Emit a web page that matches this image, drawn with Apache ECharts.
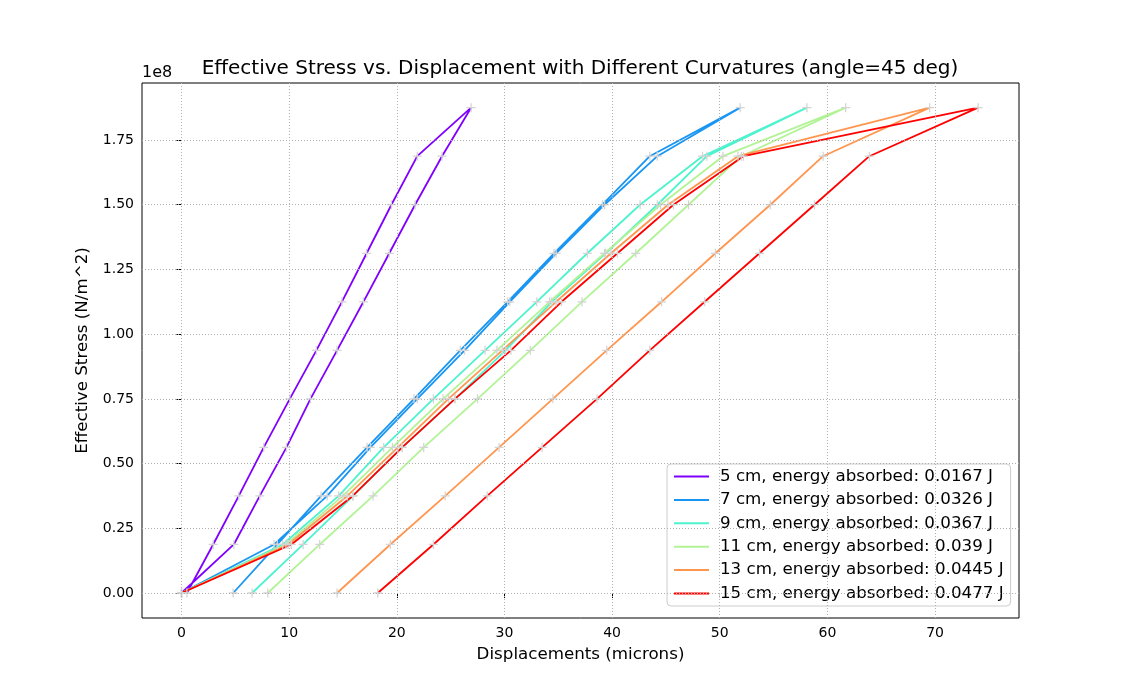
<!DOCTYPE html>
<html>
<head>
<meta charset="utf-8">
<script src="https://cdn.jsdelivr.net/npm/echarts@6/dist/echarts.min.js"></script>
<style>
  html, body { margin: 0; padding: 0; background: #fff; }
  #grafico { width: 1132px; height: 694px; }
</style>
</head>
<body>
<div id="grafico"></div>
<script>
// stress levels (N/m^2): loading up to the peak, then unloading
var stress = [0, 18750000, 37500000, 56250000, 75000000, 93750000, 112500000, 131250000, 150000000, 168750000, 187500000,
  168750000, 150000000, 131250000, 112500000, 93750000, 75000000, 56250000, 37500000, 18750000, 0];

// displacements (microns), one per stress level
var disp5 = [0, 4.86, 7.27, 9.75, 11.98, 14.45, 16.9, 19.3, 21.7, 24.2, 26.9, 21.9, 19.5, 17.2, 14.9, 12.53, 10.06, 7.64, 5.32, 2.94, 0.5];
var disp7 = [0, 8.6, 13.53, 17.55, 21.9, 26.3, 30.5, 34.8, 39.3, 44.2, 51.9, 43.5, 39.1, 34.6, 30.3, 25.9, 21.6, 17.24, 12.97, 8.9, 4.8];
var disp9 = [0, 9.4, 14.6, 18.78, 23.4, 28.2, 33.0, 37.7, 42.6, 48.4, 58.1, 48.8, 44.2, 39.4, 34.4, 30.1, 25.4, 20.49, 15.94, 11.3, 6.56];
var disp11 = [0, 9.7, 15.0, 19.6, 24.3, 29.3, 34.2, 39.3, 44.5, 50.3, 61.7, 52.0, 47.1, 42.2, 37.2, 32.4, 27.5, 22.5, 17.8, 12.84, 8.01];
var disp13 = [0, 9.9, 15.4, 20.1, 24.8, 29.8, 34.8, 39.9, 45.2, 51.7, 69.5, 59.6, 54.7, 49.6, 44.6, 39.5, 34.5, 29.5, 24.5, 19.4, 14.45];
var disp15 = [0, 10.2, 15.9, 20.5, 25.4, 30.6, 35.3, 40.5, 45.7, 52.2, 74.0, 63.9, 58.8, 53.7, 48.6, 43.5, 38.6, 33.5, 28.4, 23.4, 18.23];

var names = [
  '5 cm, energy absorbed: 0.0167 J',
  '7 cm, energy absorbed: 0.0326 J',
  '9 cm, energy absorbed: 0.0367 J',
  '11 cm, energy absorbed: 0.039 J',
  '13 cm, energy absorbed: 0.0445 J',
  '15 cm, energy absorbed: 0.0477 J'
];
var colors = ['#8000ff', '#1996f3', '#4df3ce', '#b2f396', '#ff964f', '#ff0000'];

var xTicks = [0, 10, 20, 30, 40, 50, 60, 70];
var yTicks = [0, 25000000, 50000000, 75000000, 100000000, 125000000, 150000000, 175000000];

var font = 'DejaVu Sans';
var plus = 'path://M4.3,0 H5.7 V4.3 H10 V5.7 H5.7 V10 H4.3 V5.7 H0 V4.3 H4.3 Z';

var chartDom = document.getElementById('grafico');
var myChart = echarts.init(chartDom, null, { renderer: 'canvas' });

var allDisp = [disp5, disp7, disp9, disp11, disp13, disp15];

var series = allDisp.map(function (d, i) {
  return {
    name: names[i],
    type: 'line',
    data: d.map(function (x, k) { return [x, stress[k]]; }),
    symbol: plus,
    symbolSize: 9,
    showAllSymbol: true,
    clip: false,
    itemStyle: { color: '#d4d4d4' },
    lineStyle: { color: colors[i], width: 1.8 },
    emphasis: { disabled: true },
    z: 3
  };
});

// grid lines drawn on the axis scales
series.unshift({
  name: 'grid',
  type: 'line',
  data: [],
  silent: true,
  z: 1,
  markLine: {
    silent: true,
    symbol: ['none', 'none'],
    label: { show: false },
    animation: false,
    lineStyle: { color: '#b0b0b0', type: [1, 2], width: 1 },
    emphasis: { disabled: true },
    data: xTicks.map(function (v) { return { xAxis: v }; })
      .concat(yTicks.map(function (v) { return { yAxis: v }; }))
  }
});

var option = {
  animation: false,
  textStyle: { fontFamily: font },
  grid: {
    left: 142, right: 113, top: 83, bottom: 76,
    show: true, borderColor: '#000', borderWidth: 1, backgroundColor: '#fff'
  },
  graphic: [
    {
      type: 'text', x: 580, y: 69,
      style: {
        text: 'Effective Stress vs. Displacement with Different Curvatures (angle=45 deg)',
        font: '20px "DejaVu Sans"', fill: '#000', textAlign: 'center', textVerticalAlign: 'middle'
      }
    },
    {
      type: 'text', x: 142, y: 73,
      style: { text: '1e8', font: '16px "DejaVu Sans"', fill: '#000', textAlign: 'left', textVerticalAlign: 'middle' }
    }
  ],
  legend: {
    orient: 'vertical',
    left: 667,
    top: 464,
    padding: [3, 7, 3, 7],
    itemWidth: 35,
    itemHeight: 2,
    itemGap: 4.4,
    selectedMode: false,
    backgroundColor: 'rgba(255,255,255,0.8)',
    borderColor: '#cccccc',
    borderWidth: 1,
    borderRadius: 4,
    textStyle: { fontFamily: font, fontSize: 16.7, color: '#000', lineHeight: 19, padding: [0, 0, 0, 6] },
    data: names.map(function (n, i) {
      return { name: n, icon: 'rect', itemStyle: { color: colors[i] } };
    })
  },
  xAxis: {
    type: 'value',
    min: -3.67,
    max: 77.8,
    name: 'Displacements (microns)',
    nameLocation: 'middle',
    nameGap: 28,
    nameTextStyle: { fontFamily: font, fontSize: 16.7, color: '#000' },
    axisLine: { show: false },
    axisTick: { show: true, length: 5, lineStyle: { color: '#000' }, customValues: xTicks },
    axisLabel: { fontFamily: font, fontSize: 14, color: '#000', margin: 8, customValues: xTicks },
    splitLine: { show: false }
  },
  yAxis: {
    type: 'value',
    min: -9660000,
    max: 197030000,
    name: 'Effective Stress (N/m^2)',
    nameLocation: 'middle',
    nameGap: 51,
    nameTextStyle: { fontFamily: font, fontSize: 16.7, color: '#000' },
    axisLine: { show: false },
    axisTick: { show: true, length: 5, lineStyle: { color: '#000' }, customValues: yTicks },
    axisLabel: {
      fontFamily: font, fontSize: 14, color: '#000', margin: 8, customValues: yTicks,
      formatter: function (v) { return (v / 1e8).toFixed(2); }
    },
    splitLine: { show: false }
  },
  series: series
};

option && myChart.setOption(option);
</script>
</body>
</html>
